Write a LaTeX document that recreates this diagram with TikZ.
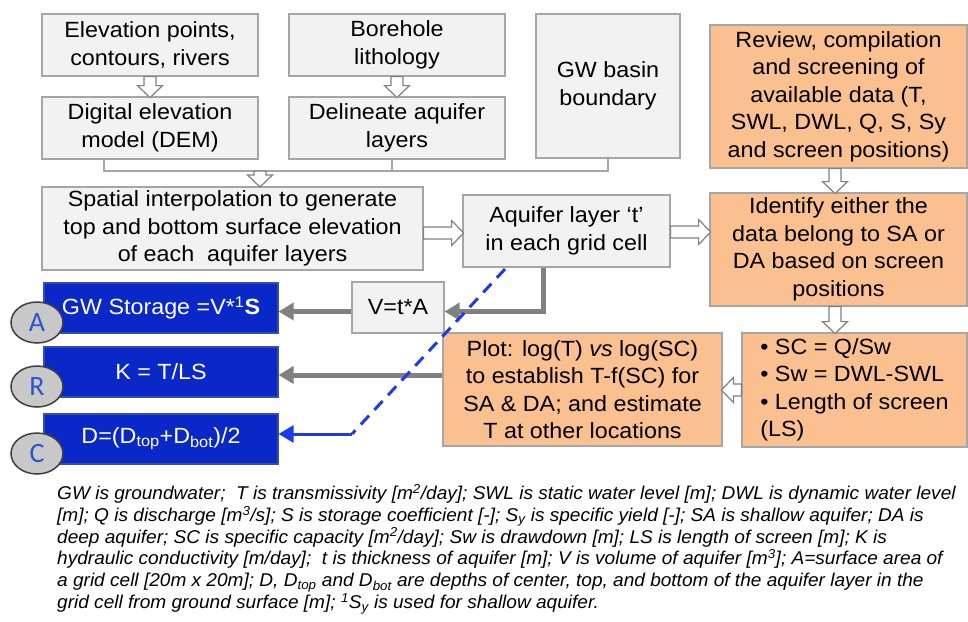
\documentclass[tikz,border=0pt]{standalone}
\usepackage{fontspec}
\setmainfont[FakeStretch=1.06]{Liberation Sans}
\newfontfamily\notefont[FakeStretch=1.03]{Liberation Sans}
\newfontfamily\tagfont{Carlito}
\usetikzlibrary{arrows.meta,shapes.geometric,calc}

\definecolor{boxgrey}{HTML}{F2F2F2}
\definecolor{boxline}{HTML}{A6A6A6}
\definecolor{boxorange}{HTML}{FAC090}
\definecolor{boxblue}{HTML}{0A28C8}
\definecolor{flowgrey}{HTML}{808080}
\definecolor{dashblue}{HTML}{1E3CE6}
\definecolor{tagfill}{HTML}{C8C8C8}
\definecolor{tagline}{HTML}{3F3F3F}
\definecolor{tagblue}{HTML}{2A55D0}

\tikzset{
  greybox/.style={draw=boxline, fill=boxgrey, line width=1.2pt, inner sep=2pt, align=center,
    font=\fontsize{22}{27.5}\selectfont},
  orangebox/.style={greybox, fill=boxorange},
  bluebox/.style={greybox, fill=boxblue, draw=boxblue!60!gray, text=white,
    minimum width=234pt, minimum height=50pt},
  tag/.style={ellipse, draw=tagline, fill=tagfill, line width=1.5pt, text=tagblue,
    minimum width=52pt, minimum height=41pt, inner sep=0pt,
    font=\tagfont\fontsize{28}{28}\selectfont},
  joinline/.style={draw=boxline, line width=1.5pt},
  flow/.style={draw=flowgrey, line width=5pt, -{Triangle[length=15pt,width=17pt]}},
  blueflow/.style={draw=dashblue, line width=3pt, -{Triangle[length=15pt,width=17pt]}},
  % open block arrow of length #1, pointing along x
  pics/hollow/.style={code={
    \draw[draw=flowgrey, fill=white, line width=1.2pt]
      (0,-6) -- (#1-12,-6) -- (#1-12,-12.5) -- (#1,0) -- (#1-12,12.5) -- (#1-12,6) -- (0,6) -- cycle;}}
}

\begin{document}
\begin{tikzpicture}[x=1pt,y=-1pt]
\useasboundingbox (0,0) rectangle (968,621);

% data boxes, top row
\node[greybox, minimum width=216pt, minimum height=62pt] (elev) at (150,45) {Elevation points,\\contours, rivers};
\node[greybox, minimum width=216pt, minimum height=62pt] (bore) at (397,45) {Borehole\\lithology};
\node[greybox, minimum width=144pt, minimum height=144pt] (basin) at (608,86) {GW basin\\boundary};
\node[greybox, minimum width=216pt, minimum height=62pt] (dem) at (150,128) {Digital elevation\\model (DEM)};
\node[greybox, minimum width=216pt, minimum height=62pt] (delin) at (397,128) {Delineate aquifer\\layers};
\node[orangebox, minimum width=257pt, minimum height=143pt] (review) at (838.5,96.5) {Review, compilation\\and screening of\\available data (T,\\SWL, DWL, Q, S, Sy\\and screen positions)};

% middle row
\node[greybox, minimum width=381pt, minimum height=83pt] (spatial) at (232.5,228.5) {Spatial interpolation to generate\\top and bottom surface elevation\\of each\ \ aquifer layers};
\node[greybox, minimum width=207pt, minimum height=72pt] (aqui) at (566.5,231) {Aquifer layer `t'\\in each grid cell};
\node[orangebox, minimum width=257pt, minimum height=113pt] (ident) at (838.5,249.5) {Identify either the\\data belong to SA or\\DA based on screen\\positions};
\node[greybox, minimum width=92pt, minimum height=51pt] (vol) at (398,307.5) {V=t*A};
\node[orangebox, minimum width=225pt, minimum height=114pt, align=left] (screen) at (854.5,390) {\textbullet\ SC = Q/Sw\\\textbullet\ Sw = DWL-SWL\\\textbullet\ Length of screen\\(LS)};
\node[orangebox, minimum width=279pt, minimum height=113pt] (plot) at (582.5,389.5) {Plot: log(T) \textit{vs} log(SC)\\to establish T-f(SC) for\\SA \& DA; and estimate\\T at other locations};

% results
\node[bluebox] (stor) at (161,308) {GW Storage =V*\textsuperscript{1}\textbf{S}};
\node[bluebox] (cond) at (161,372) {K = T/LS};
\node[bluebox] (dep) at (161,439) {D=(D\textsubscript{top}+D\textsubscript{bot})/2};
\node[tag] (tagA) at (37,322.5) {A};
\node[tag] (tagR) at (37,386.5) {R};
\node[tag] (tagC) at (37,453.5) {C};

% open arrows between steps
\pic[rotate=-90] at (elev.south) {hollow=21};
\pic[rotate=-90] at (bore.south) {hollow=21};
\coordinate (join) at (260,171);
\draw[joinline] ([xshift=-46pt]dem.south) |- (join) -| (basin.south);
\draw[joinline] ([xshift=-5pt]delin.south) -- ([xshift=-5pt]delin.south |- join);
\pic[rotate=-90] at (join) {hollow=16};
\pic at (spatial.east |- 0,233) {hollow=40};
\pic at (aqui.east |- 0,232) {hollow=40};
\pic[rotate=-90] at (review.south -| 835,0) {hollow=25};
\pic[rotate=-90] at (ident.south -| 835,0) {hollow=27};
\pic[rotate=180] at (screen.west) {hollow=20};

% result arrows
\draw[flow] ([xshift=-23.5pt]aqui.south) |- ([yshift=-4pt]vol.east);
\draw[flow] ([yshift=-4pt]vol.west) -- ([yshift=-4pt]vol.west -| stor.east);
\draw[flow] (plot.west |- 0,375) -- (cond.east |- 0,375);
\coordinate (dtop) at (505,269);
\coordinate (dbend) at (352,434);
\draw[dashblue, line width=3pt, dash pattern=on 12pt off 8pt] (dtop) -- (dbend);
\draw[blueflow] (dbend) -- (dep.east |- dbend);

% notes
\node[anchor=north west, align=left, inner sep=0pt, font=\notefont\itshape\fontsize{18.5}{21.8}\selectfont] (notes) at (57,484) {%
GW is groundwater;\ \ T is transmissivity [m\textsuperscript{2}/day]; SWL is static water level [m]; DWL is dynamic water level\\
{}[m]; Q is discharge [m\textsuperscript{3}/s]; S is storage coefficient [-]; S\textsubscript{y} is specific yield [-]; SA is shallow aquifer; DA is\\
deep aquifer; SC is specific capacity [m\textsuperscript{2}/day]; Sw is drawdown [m]; LS is length of screen [m]; K is\\
hydraulic conductivity [m/day];\ \ t is thickness of aquifer [m]; V is volume of aquifer [m\textsuperscript{3}]; A=surface area of\\
a grid cell [20m x 20m]; D, D\textsubscript{top} and D\textsubscript{bot} are depths of center, top, and bottom of the aquifer layer in the\\
grid cell from ground surface [m]; \textsuperscript{1}S\textsubscript{y} is used for shallow aquifer.};
\end{tikzpicture}
\end{document}
